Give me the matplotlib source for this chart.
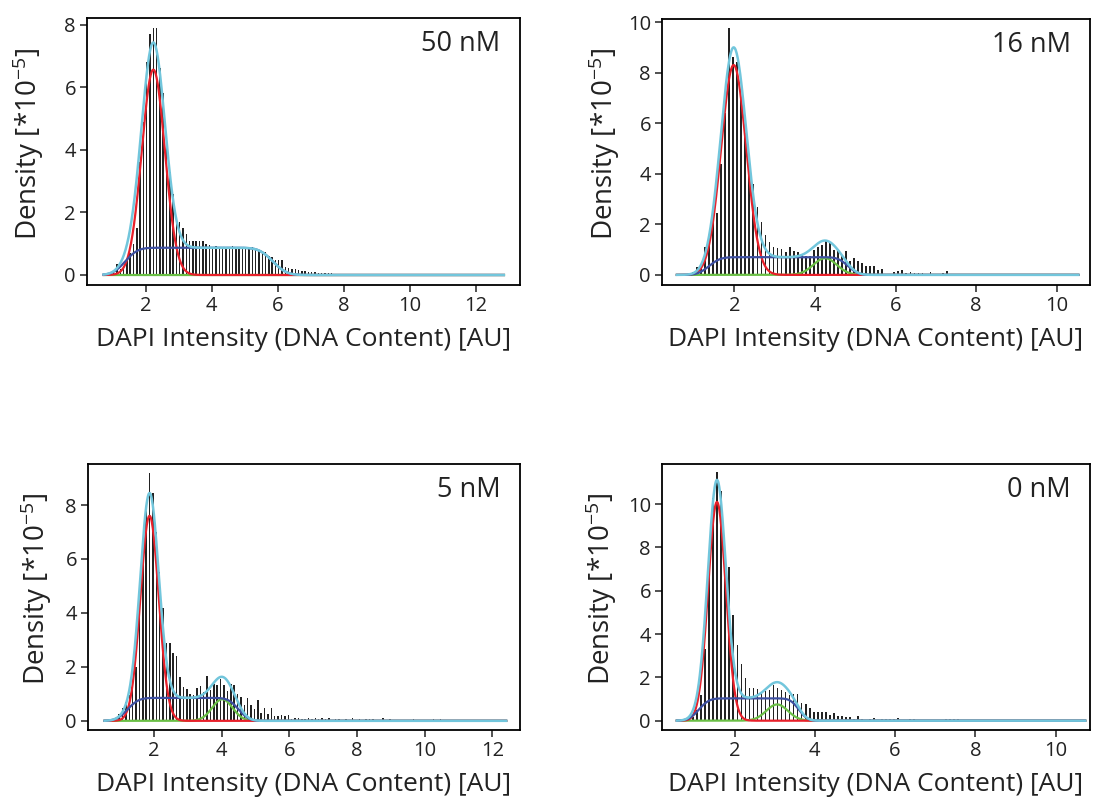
import math
import numpy as np
import matplotlib
matplotlib.use("Agg")
import matplotlib.pyplot as plt

plt.rcParams['font.family'] = ['Open Sans', 'DejaVu Sans']
plt.rcParams['mathtext.fontset'] = 'custom'
plt.rcParams['mathtext.rm'] = 'Open Sans'
plt.rcParams['mathtext.it'] = 'Open Sans:italic'

# ---------------- data ----------------
panel_labels = ["50 nM", "16 nM", "5 nM", "0 nM"]
bin_width = 0.1

# histogram bin heights (density *1e-5), first bin centre per panel
p1_start = 1.03
p1_heights = [0.05, 0.35, 0.2, 0.3, 0.5, 0.7, 1.0, 1.5, 3.6, 4.9,
              6.8, 7.7, 7.9, 7.9, 6.6, 5.8, 4.4, 3.3, 2.6, 1.8,
              1.7, 1.5, 1.3, 1.1, 1.1, 1.1, 1.1, 1.1, 1.0, 0.95,
              0.9, 0.92, 0.9, 0.88, 0.9, 0.9, 0.92, 0.9, 0.9, 0.88,
              0.9, 0.9, 0.9, 0.85, 0.8, 0.72, 0.72, 0.6, 0.58, 0.48,
              0.48, 0.48, 0.25, 0.21, 0.2, 0.18, 0.15, 0.12, 0.12, 0.1,
              0.1, 0.08, 0.06, 0.06, 0.05, 0.05, 0.05, 0.04, 0.04, 0.04,
              0.03]

p2_start = 0.97
p2_heights = [0.1, 0.3, 0.45, 1.1, 1.5, 2.45, 2.45, 4.4, 6.4, 9.75,
              8.6, 8.4, 7.0, 5.6, 4.2, 3.6, 2.7, 2.1, 1.58, 1.32,
              1.1, 1.05, 1.04, 0.92, 1.1, 0.95, 0.92, 0.8, 0.73, 0.75,
              1.0, 1.1, 1.2, 1.36, 1.28, 1.0, 1.0, 0.77, 0.95, 0.53,
              0.66, 0.53, 0.46, 0.36, 0.36, 0.36, 0.2, 0.22, 0.0, 0.0,
              0.13, 0.17, 0.2, 0.07, 0.12, 0.08, 0.08, 0.08, 0.0, 0.12,
              0.0, 0.0, 0.07, 0.16]

p3_start = 0.97
p3_heights = [0.27, 0.48, 0.7, 0.95, 1.45, 2.0, 3.9, 6.0, 7.9, 9.17,
              8.45, 7.0, 5.5, 4.2, 2.87, 2.87, 2.52, 2.4, 1.62, 1.26,
              1.17, 1.0, 0.95, 1.2, 1.3, 1.07, 1.67, 1.14, 1.35, 1.32,
              1.55, 1.32, 1.1, 1.35, 1.32, 0.98, 0.89, 0.58, 0.83, 0.58,
              0.42, 0.79, 0.3, 0.46, 0.25, 0.46, 0.17, 0.17, 0.21, 0.17,
              0.21, 0.05, 0.12, 0.12, 0.05, 0.05, 0.12, 0.05, 0.09, 0.05,
              0.12, 0.05, 0.12, 0.04, 0.05, 0.05, 0.04, 0.05, 0.04, 0.09,
              0.04, 0.05, 0.0, 0.05, 0.05, 0.05, 0.04, 0.0, 0.09, 0.0,
              0.07, 0.0, 0.0, 0.0, 0.0, 0.0, 0.0, 0.05, 0.0, 0.0,
              0.0, 0.0, 0.0, 0.05, 0.0, 0.05]

p4_start = 0.87
p4_heights = [0.05, 0.18, 0.5, 1.2, 3.3, 6.7, 10.3, 11.46, 10.6, 7.2,
              7.1, 4.9, 3.5, 2.6, 1.95, 1.52, 1.52, 1.46, 1.34, 1.37,
              1.42, 1.65, 1.52, 1.42, 1.31, 1.18, 1.22, 1.22, 0.8, 0.75,
              0.57, 0.42, 0.42, 0.42, 0.42, 0.25, 0.37, 0.22, 0.22, 0.15,
              0.15, 0.1, 0.22, 0.08, 0.0, 0.08, 0.12, 0.0, 0.08, 0.08,
              0.08, 0.08, 0.12, 0.0, 0.0, 0.08, 0.08, 0.0, 0.0, 0.0,
              0.0, 0.0, 0.0, 0.0, 0.06, 0.06, 0.06, 0.06]

# fitted model components: G1 (red), S-phase plateau (blue), G2 (green)
g1_mean = [2.23, 1.98, 1.87, 1.56]
g1_sd = [0.35, 0.31, 0.27, 0.22]
g1_peak = [6.56, 8.30, 7.60, 10.10]
s_level = [0.87, 0.70, 0.85, 1.03]
s_left = [1.38, 1.37, 1.22, 1.11]
s_left_sd = [0.30, 0.22, 0.26, 0.20]
s_right = [5.85, 4.82, 4.50, 3.60]
s_right_sd = [0.33, 0.20, 0.24, 0.17]
g2_mean = [4.50, 4.25, 4.02, 3.06]
g2_sd = [0.30, 0.29, 0.30, 0.27]
g2_peak = [0.0, 0.66, 0.80, 0.75]
fit_min = [0.72, 0.57, 0.54, 0.56]
fit_max = [12.85, 10.54, 12.41, 10.74]

x_limits = [(0.22, 13.34), (0.20, 10.83), (0.05, 12.82), (0.19, 10.86)]
y_limits = [(-0.32, 8.21), (-0.40, 10.12), (-0.34, 9.52), (-0.43, 11.85)]
x_ticks = [[2, 4, 6, 8, 10, 12], [2, 4, 6, 8, 10], [2, 4, 6, 8, 10, 12], [2, 4, 6, 8, 10]]
y_ticks = [[0, 2, 4, 6, 8], [0, 2, 4, 6, 8, 10], [0, 2, 4, 6, 8], [0, 2, 4, 6, 8, 10]]

starts = [p1_start, p2_start, p3_start, p4_start]
heights = [p1_heights, p2_heights, p3_heights, p4_heights]

# ---------------- layout (pixels) ----------------
W, H = 1094, 798
boxes = [(87, 520, 18, 285), (662, 1090, 19, 285), (88, 520, 464, 730), (662, 1090, 464, 730)]
ylabel_x = [-0.094, -0.094, -0.079, -0.101]

erf = np.frompyfunc(math.erf, 1, 1)


def gauss(x, m, s, h):
    return h * np.exp(-0.5 * ((x - m) / s) ** 2)


def plateau(x, lvl, a, sa, b, sb):
    left = erf((x - a) / (sa * math.sqrt(2))).astype(float)
    right = erf((x - b) / (sb * math.sqrt(2))).astype(float)
    return lvl * 0.5 * (left - right)


fig = plt.figure(figsize=(W / 100, H / 100), dpi=100)
for i in range(4):
    l, r, t, b = boxes[i]
    ax = fig.add_axes([l / W, 1 - b / H, (r - l) / W, (b - t) / H])
    hts = np.array(heights[i])
    xs = starts[i] + bin_width * np.arange(len(hts))
    ax.bar(xs, hts, width=0.045, color='#222222', linewidth=0, zorder=1)

    xc = np.linspace(fit_min[i], fit_max[i], 800)
    red = gauss(xc, g1_mean[i], g1_sd[i], g1_peak[i])
    blue = plateau(xc, s_level[i], s_left[i], s_left_sd[i], s_right[i], s_right_sd[i])
    green = gauss(xc, g2_mean[i], g2_sd[i], g2_peak[i])
    total = red + blue + green
    ax.plot(xc, green, color='#6abf45', lw=1.6, zorder=2)
    ax.plot(xc, red, color='#e8202a', lw=1.6, zorder=3)
    ax.plot(xc, blue, color='#3d4fa1', lw=1.6, zorder=3)
    ax.plot(xc, total, color='#72c6dc', lw=1.8, zorder=4)

    ax.set_xlim(*x_limits[i])
    ax.set_ylim(*y_limits[i])
    ax.set_xticks(x_ticks[i])
    ax.set_yticks(y_ticks[i])
    ax.tick_params(direction='out', length=5, width=1.1, labelsize=14.5,
                   colors='#222222', pad=3)
    for sp in ax.spines.values():
        sp.set_linewidth(1.3)
        sp.set_color('black')
    ax.set_xlabel('DAPI Intensity (DNA Content) [AU]', fontsize=19, color='#222222', labelpad=8)
    ax.set_ylabel(r'Density [*10$^{\mathregular{-5}}$]', fontsize=20, color='#222222')
    ax.yaxis.set_label_coords(ylabel_x[i], 0.53)
    ax.text(0.955, 0.955, panel_labels[i], transform=ax.transAxes, ha='right', va='top',
            fontsize=19.5, color='#222222')

fig.savefig('out.png', dpi=100)
